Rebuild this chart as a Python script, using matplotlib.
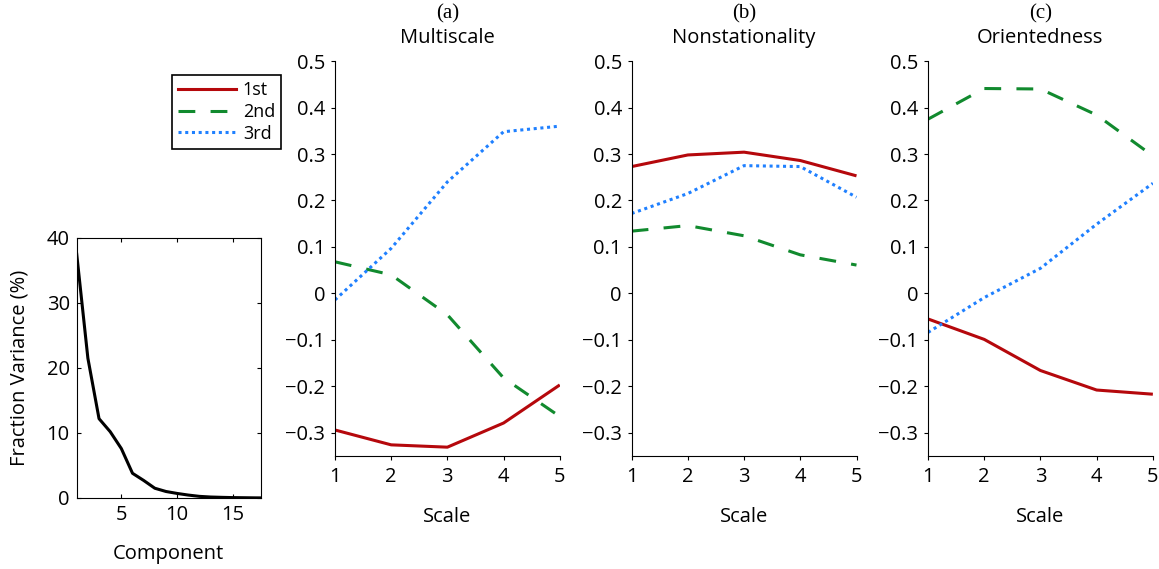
import matplotlib
matplotlib.use("Agg")
import matplotlib.pyplot as plt
from matplotlib.lines import Line2D

plt.rcParams['font.family'] = ['Open Sans', 'DejaVu Sans']
plt.rcParams['font.size'] = 14

# explained variance of each component (%)
components = list(range(1, 19))
variance = [37.5, 21.5, 12.2, 10.2, 7.6, 3.8, 2.7, 1.5, 1.0, 0.7,
            0.45, 0.25, 0.15, 0.1, 0.06, 0.04, 0.02, 0.01]

scales = [1, 2, 3, 4, 5]

# loadings per feature group, 1st/2nd/3rd component
multi_1st = [-0.294, -0.326, -0.331, -0.279, -0.197]
multi_2nd = [0.068, 0.040, -0.046, -0.182, -0.265]
multi_3rd = [-0.014, 0.097, 0.240, 0.348, 0.360]

nonstat_1st = [0.273, 0.298, 0.304, 0.286, 0.253]
nonstat_2nd = [0.134, 0.146, 0.124, 0.083, 0.061]
nonstat_3rd = [0.172, 0.215, 0.275, 0.273, 0.207]

orient_1st = [-0.055, -0.099, -0.166, -0.208, -0.217]
orient_2nd = [0.375, 0.441, 0.440, 0.384, 0.296]
orient_3rd = [-0.084, -0.009, 0.054, 0.149, 0.237]

panel_letters = ['(a)', '(b)', '(c)']
panel_titles = ['Multiscale', 'Nonstationality', 'Orientedness']
series_labels = ['1st', '2nd', '3rd']

RED = '#b5080c'
GREEN = '#118a2e'
BLUE = '#1f80ff'
LW = 2.2
FS = 14.5

fig = plt.figure(figsize=(11.59, 5.69), dpi=100)

# scree plot
ax0 = fig.add_axes([0.0662, 0.1248, 0.1588, 0.457])
ax0.plot(components, variance, color='black', lw=LW)
ax0.set_xlim(1, 17.5)
ax0.set_ylim(0, 40)
ax0.set_xticks([5, 10, 15])
ax0.set_yticks([0, 10, 20, 30, 40])
ax0.tick_params(direction='in', length=3, top=True, right=True, labelsize=FS, pad=5)
ax0.set_xlabel('Component', fontsize=FS, labelpad=14)
ax0.set_ylabel('Fraction Variance (%)', fontsize=FS, labelpad=12)
for sp in ax0.spines.values():
    sp.set_linewidth(0.8)

groups = [
    (multi_1st, multi_2nd, multi_3rd),
    (nonstat_1st, nonstat_2nd, nonstat_3rd),
    (orient_1st, orient_2nd, orient_3rd),
]
lefts = [0.289, 0.545, 0.8007]

for i, (s1, s2, s3) in enumerate(groups):
    ax = fig.add_axes([lefts[i], 0.1986, 0.194, 0.694])
    ax.plot(scales, s1, color=RED, lw=LW, solid_capstyle='butt')
    ax.plot(scales, s2, color=GREEN, lw=LW, dashes=(5.5, 5))
    ax.plot(scales, s3, color=BLUE, lw=LW, dashes=(1, 1.2))
    ax.set_xlim(1, 5)
    ax.set_ylim(-0.35, 0.5)
    ax.set_xticks(scales)
    ax.set_yticks([-0.3, -0.2, -0.1, 0, 0.1, 0.2, 0.3, 0.4, 0.5])
    ax.set_yticklabels(['\u22120.3', '\u22120.2', '\u22120.1', '0',
                        '0.1', '0.2', '0.3', '0.4', '0.5'])
    ax.tick_params(direction='out', length=3, labelsize=FS, pad=4)
    ax.tick_params(axis='x', pad=5)
    ax.spines['top'].set_visible(False)
    ax.spines['right'].set_visible(False)
    for sp in ('left', 'bottom'):
        ax.spines[sp].set_linewidth(0.8)
    ax.set_xlabel('Scale', fontsize=FS, labelpad=14)
    ax.text(0.5, 1.12, panel_letters[i], transform=ax.transAxes,
            ha='center', va='center', fontsize=15, family='Liberation Serif')
    ax.text(0.5, 1.058, panel_titles[i], transform=ax.transAxes,
            ha='center', va='center', fontsize=FS)

handles = [
    Line2D([], [], color=RED, lw=LW),
    Line2D([], [], color=GREEN, lw=LW, dashes=(5.5, 5)),
    Line2D([], [], color=BLUE, lw=LW, dashes=(1, 1.2)),
]
leg = fig.legend(handles, series_labels, loc='upper left',
                 bbox_to_anchor=(0.148, 1 - 75 / 569), borderaxespad=0,
                 fancybox=False, edgecolor='black', fontsize=13,
                 handlelength=3.2, handletextpad=0.4, labelspacing=0.2,
                 borderpad=0.35, framealpha=1)
leg.get_frame().set_linewidth(1.2)

fig.savefig('out.png', dpi=100)
